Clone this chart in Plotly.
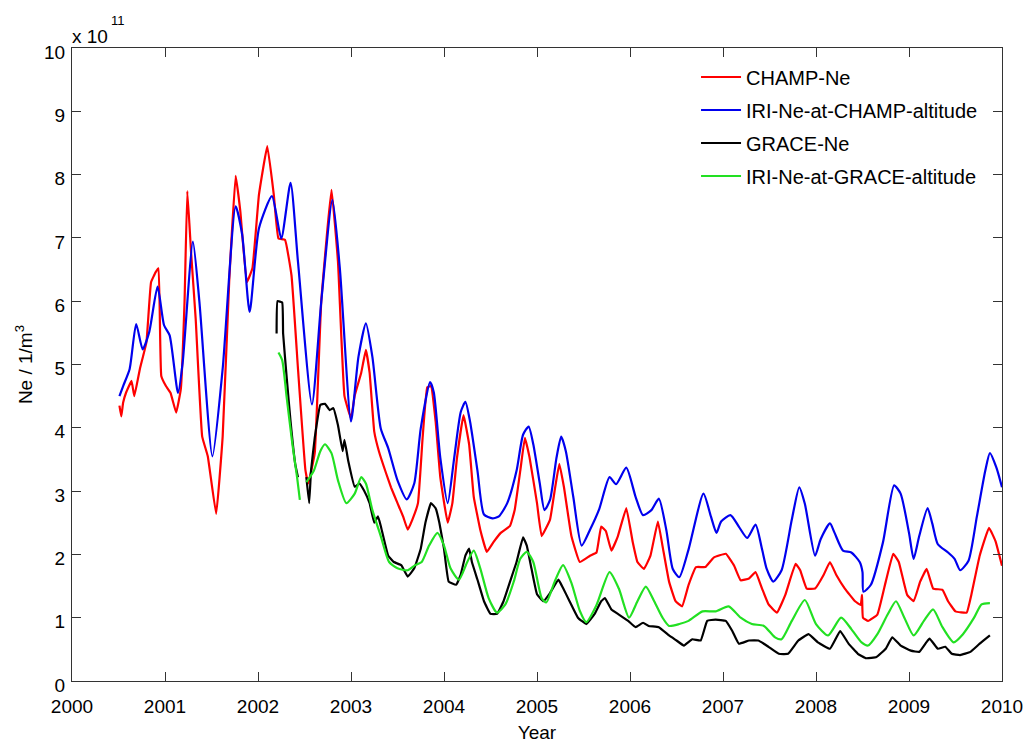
import plotly.graph_objects as go

# (decimal year, Ne in units of 1e11 m^-3); None marks a data gap
champ_ne = [
    (2000.51, 4.35), (2000.53, 4.18), (2000.55, 4.40), (2000.58, 4.55), (2000.64, 4.74), (2000.67, 4.50),
    (2000.73, 4.93), (2000.80, 5.35), (2000.85, 6.30), (2000.90, 6.46), (2000.93, 6.52), (2000.96, 4.82),
    (2001.01, 4.66), (2001.06, 4.55), (2001.12, 4.24), (2001.17, 4.61), (2001.21, 5.99), (2001.24, 7.74),
    (2001.28, 6.78), (2001.33, 5.72), (2001.40, 3.86), (2001.46, 3.55), (2001.55, 2.64), (2001.62, 3.86),
    (2001.69, 6.30), (2001.76, 7.98), (2001.81, 7.42), (2001.88, 6.30), (2001.94, 6.52), (2002.01, 7.68),
    (2002.10, 8.45), (2002.17, 7.68), (2002.22, 6.99), (2002.29, 6.97), (2002.36, 6.41), (2002.43, 4.93),
    (2002.51, 3.33), (2002.54, 3.12), (2002.61, 3.60), (2002.68, 5.99), (2002.79, 7.76), (2002.86, 6.62),
    (2002.93, 4.50), (2003.00, 4.15), (2003.04, 4.51), (2003.11, 4.87), (2003.16, 5.23), (2003.20, 4.87),
    (2003.25, 3.94), (2003.30, 3.63), (2003.38, 3.27), (2003.43, 3.06), (2003.50, 2.81), (2003.56, 2.60),
    (2003.61, 2.39), (2003.66, 2.55), (2003.72, 2.81), (2003.77, 3.84), (2003.82, 4.64), (2003.86, 4.66),
    (2003.91, 4.10), (2003.96, 3.22), (2004.04, 2.50), (2004.09, 2.81), (2004.14, 3.53), (2004.21, 4.20),
    (2004.27, 3.74), (2004.32, 2.91), (2004.39, 2.39), (2004.46, 2.04), (2004.53, 2.19), (2004.61, 2.34),
    (2004.71, 2.45), (2004.76, 2.70), (2004.82, 3.32), (2004.87, 3.84), (2004.92, 3.53), (2005.00, 2.81),
    (2005.05, 2.29), (2005.14, 2.55), (2005.19, 3.01), (2005.24, 3.43), (2005.29, 3.06), (2005.37, 2.29),
    (2005.46, 1.88), (2005.57, 1.98), (2005.64, 2.03), (2005.69, 2.44), (2005.74, 2.37), (2005.80, 2.06),
    (2005.87, 2.29), (2005.96, 2.73), (2006.03, 2.19), (2006.08, 1.88), (2006.15, 1.77), (2006.22, 1.98),
    (2006.30, 2.52), (2006.35, 2.13), (2006.42, 1.57), (2006.49, 1.26), (2006.56, 1.18), (2006.63, 1.52),
    (2006.71, 1.80), (2006.81, 1.80), (2006.90, 1.95), (2007.03, 2.01), (2007.12, 1.82), (2007.19, 1.59),
    (2007.28, 1.62), (2007.35, 1.72), (2007.42, 1.46), (2007.49, 1.21), (2007.58, 1.08), (2007.67, 1.36),
    (2007.78, 1.85), (2007.83, 1.75), (2007.90, 1.46), (2007.99, 1.46), (2008.08, 1.67), (2008.15, 1.88),
    (2008.22, 1.67), (2008.31, 1.46), (2008.42, 1.26), (2008.48, 1.20), (2008.495, 1.36), (2008.505, 1.00),
    (2008.56, 0.95), (2008.66, 1.05), (2008.75, 1.57), (2008.83, 2.01), (2008.89, 1.88), (2008.98, 1.36),
    (2009.05, 1.26), (2009.12, 1.57), (2009.19, 1.77), (2009.26, 1.46), (2009.36, 1.44), (2009.42, 1.26),
    (2009.50, 1.10), (2009.62, 1.08), (2009.67, 1.36), (2009.76, 1.98), (2009.86, 2.42), (2009.93, 2.21),
    (2010.00, 1.82),
]

iri_champ = [
    (2000.51, 4.50), (2000.55, 4.66), (2000.62, 4.93), (2000.69, 5.64), (2000.76, 5.24), (2000.83, 5.51),
    (2000.92, 6.23), (2000.99, 5.62), (2001.05, 5.46), (2001.14, 4.55), (2001.19, 5.03), (2001.30, 6.94),
    (2001.37, 5.99), (2001.51, 3.55), (2001.62, 4.93), (2001.76, 7.50), (2001.83, 7.05), (2001.91, 5.83),
    (2002.01, 7.15), (2002.15, 7.66), (2002.25, 6.99), (2002.35, 7.87), (2002.43, 6.62), (2002.58, 4.37),
    (2002.68, 5.99), (2002.80, 7.60), (2002.88, 6.52), (2003.00, 4.10), (2003.08, 5.12), (2003.16, 5.65),
    (2003.23, 5.12), (2003.32, 3.99), (2003.40, 3.68), (2003.50, 3.17), (2003.60, 2.87), (2003.68, 3.12),
    (2003.75, 3.99), (2003.85, 4.72), (2003.89, 4.56), (2003.96, 3.53), (2004.04, 2.81), (2004.11, 3.53),
    (2004.18, 4.25), (2004.23, 4.41), (2004.28, 4.10), (2004.36, 3.32), (2004.43, 2.63), (2004.52, 2.57),
    (2004.59, 2.60), (2004.68, 2.81), (2004.78, 3.32), (2004.85, 3.89), (2004.91, 4.02), (2004.96, 3.74),
    (2005.03, 3.12), (2005.08, 2.70), (2005.14, 2.86), (2005.21, 3.53), (2005.26, 3.86), (2005.31, 3.63),
    (2005.39, 2.91), (2005.48, 2.14), (2005.57, 2.39), (2005.67, 2.72), (2005.78, 3.22), (2005.85, 3.11),
    (2005.96, 3.37), (2006.06, 2.91), (2006.14, 2.62), (2006.23, 2.70), (2006.31, 2.88), (2006.39, 2.39),
    (2006.46, 1.77), (2006.53, 1.64), (2006.63, 2.08), (2006.79, 2.96), (2006.87, 2.60), (2006.93, 2.34),
    (2006.98, 2.52), (2007.08, 2.62), (2007.17, 2.44), (2007.26, 2.26), (2007.35, 2.47), (2007.42, 2.08),
    (2007.47, 1.77), (2007.54, 1.57), (2007.63, 1.75), (2007.74, 2.55), (2007.82, 3.06), (2007.88, 2.80),
    (2007.99, 1.98), (2008.05, 2.24), (2008.15, 2.49), (2008.20, 2.34), (2008.29, 2.06), (2008.38, 2.03),
    (2008.47, 1.88), (2008.50, 1.72), (2008.51, 1.41), (2008.59, 1.52), (2008.72, 2.19), (2008.84, 3.09),
    (2008.91, 2.96), (2009.00, 2.34), (2009.05, 1.93), (2009.11, 2.29), (2009.20, 2.73), (2009.25, 2.49),
    (2009.31, 2.16), (2009.42, 2.03), (2009.49, 1.93), (2009.55, 1.75), (2009.64, 1.90), (2009.73, 2.60),
    (2009.82, 3.32), (2009.87, 3.60), (2009.94, 3.37), (2010.00, 3.06),
]

grace_ne = [
    (2002.20, 5.49), (2002.21, 6.00), (2002.26, 5.98), (2002.27, 5.49), (2002.31, 4.77), (2002.35, 4.10),
    (2002.40, 3.43), (2002.43, 3.22), None,
    (2002.52, 3.22), (2002.55, 2.81), (2002.57, 3.32), (2002.61, 3.84), (2002.67, 4.36), (2002.72, 4.38),
    (2002.77, 4.28), (2002.81, 4.31), (2002.86, 4.04), (2002.91, 3.63), (2002.93, 3.81), (2002.97, 3.48),
    (2003.04, 3.07), (2003.09, 3.12), (2003.14, 3.01), (2003.20, 2.81), (2003.25, 2.50), (2003.29, 2.60),
    (2003.32, 2.45), (2003.40, 1.98), (2003.46, 1.88), (2003.54, 1.83), (2003.61, 1.65), (2003.68, 1.78),
    (2003.75, 2.09), (2003.80, 2.50), (2003.86, 2.81), (2003.91, 2.73), (2003.95, 2.50), (2004.00, 2.09),
    (2004.05, 1.57), (2004.13, 1.52), (2004.18, 1.68), (2004.23, 1.98), (2004.27, 2.09), (2004.30, 1.88),
    (2004.36, 1.60), (2004.43, 1.26), (2004.50, 1.06), (2004.57, 1.06), (2004.64, 1.26), (2004.71, 1.57),
    (2004.78, 1.88), (2004.85, 2.27), (2004.89, 2.14), (2004.94, 1.78), (2005.00, 1.37), (2005.07, 1.26),
    (2005.14, 1.39), (2005.23, 1.60), (2005.28, 1.47), (2005.35, 1.26), (2005.44, 1.00), (2005.53, 0.90),
    (2005.62, 1.06), (2005.69, 1.26), (2005.73, 1.31), (2005.80, 1.13), (2005.88, 1.05), (2005.98, 0.95),
    (2006.06, 0.85), (2006.14, 0.92), (2006.20, 0.87), (2006.31, 0.85), (2006.42, 0.72), (2006.50, 0.64),
    (2006.58, 0.56), (2006.67, 0.66), (2006.76, 0.64), (2006.83, 0.95), (2006.92, 0.97), (2007.03, 0.95),
    (2007.10, 0.79), (2007.17, 0.59), (2007.28, 0.64), (2007.38, 0.64), (2007.49, 0.54), (2007.60, 0.43),
    (2007.70, 0.43), (2007.81, 0.64), (2007.92, 0.74), (2008.02, 0.61), (2008.15, 0.51), (2008.26, 0.79),
    (2008.35, 0.59), (2008.45, 0.43), (2008.54, 0.36), (2008.65, 0.38), (2008.75, 0.51), (2008.82, 0.69),
    (2008.91, 0.56), (2009.02, 0.48), (2009.11, 0.46), (2009.22, 0.67), (2009.31, 0.51), (2009.39, 0.54),
    (2009.46, 0.43), (2009.55, 0.41), (2009.66, 0.46), (2009.76, 0.59), (2009.87, 0.72),
]

iri_grace = [
    (2002.22, 5.19), (2002.26, 5.07), (2002.31, 4.46), (2002.37, 3.74), (2002.42, 3.22), (2002.45, 2.86), None,
    (2002.52, 3.14), (2002.60, 3.32), (2002.67, 3.63), (2002.72, 3.74), (2002.79, 3.60), (2002.86, 3.17),
    (2002.95, 2.81), (2003.04, 2.96), (2003.11, 3.22), (2003.16, 3.12), (2003.23, 2.70), (2003.32, 2.29),
    (2003.41, 1.88), (2003.50, 1.78), (2003.61, 1.75), (2003.69, 1.83), (2003.76, 1.88), (2003.84, 2.14),
    (2003.93, 2.34), (2004.00, 2.14), (2004.07, 1.78), (2004.16, 1.60), (2004.25, 1.88), (2004.32, 2.06),
    (2004.39, 1.78), (2004.48, 1.31), (2004.57, 1.08), (2004.66, 1.21), (2004.75, 1.57), (2004.82, 1.93),
    (2004.89, 2.04), (2004.96, 1.88), (2005.05, 1.31), (2005.10, 1.24), (2005.19, 1.57), (2005.28, 1.83),
    (2005.37, 1.55), (2005.46, 1.11), (2005.53, 0.93), (2005.64, 1.20), (2005.78, 1.72), (2005.88, 1.46),
    (2005.99, 1.00), (2006.08, 1.26), (2006.17, 1.49), (2006.26, 1.26), (2006.35, 1.00), (2006.42, 0.87),
    (2006.53, 0.90), (2006.63, 0.95), (2006.78, 1.10), (2006.92, 1.10), (2007.06, 1.18), (2007.19, 1.00),
    (2007.31, 0.90), (2007.44, 0.87), (2007.56, 0.69), (2007.63, 0.66), (2007.74, 0.95), (2007.88, 1.28),
    (2008.00, 0.90), (2008.13, 0.72), (2008.27, 1.00), (2008.38, 0.82), (2008.49, 0.61), (2008.56, 0.56),
    (2008.66, 0.74), (2008.77, 1.05), (2008.86, 1.26), (2008.95, 1.00), (2009.05, 0.72), (2009.16, 0.95),
    (2009.26, 1.13), (2009.36, 0.85), (2009.48, 0.61), (2009.58, 0.74), (2009.70, 1.00), (2009.78, 1.21),
    (2009.87, 1.23),
]

series_names = ["CHAMP-Ne", "IRI-Ne-at-CHAMP-altitude", "GRACE-Ne", "IRI-Ne-at-GRACE-altitude"]
series_colors = ["#ff0000", "#0000ee", "#000000", "#22e022"]
series_smoothing = [0.3, 0.6, 0.3, 0.6]
x_ticks = list(range(2000, 2011))
y_ticks = list(range(0, 11))


def split(points):
    xs = [p[0] if p is not None else None for p in points]
    ys = [p[1] if p is not None else None for p in points]
    return xs, ys


fig = go.Figure()
for data, name, color, sm in zip([champ_ne, iri_champ, grace_ne, iri_grace],
                                 series_names, series_colors, series_smoothing):
    xs, ys = split(data)
    fig.add_trace(go.Scatter(x=xs, y=ys, mode="lines", name=name, legendgroup=name,
                             line=dict(color=color, width=2.2, shape="spline", smoothing=sm),
                             connectgaps=False))

axis_common = dict(showline=True, linecolor="#333333", linewidth=1, mirror="ticks",
                   ticks="inside", ticklen=9, tickcolor="#333333", showgrid=False,
                   zeroline=False, tickfont=dict(size=19, color="black"))

fig.update_layout(
    width=1035, height=751,
    margin=dict(l=72, r=27, t=48, b=56),
    paper_bgcolor="white", plot_bgcolor="white",
    font=dict(family="Liberation Sans, Arial, sans-serif", size=19, color="black"),
    xaxis=dict(range=[2000, 2010], tickvals=x_ticks, ticktext=[str(v) for v in x_ticks],
               ticklabelstandoff=8,
               title=dict(text="Year", standoff=9, font=dict(size=19)), **axis_common),
    yaxis=dict(range=[0, 10], tickvals=y_ticks, ticktext=[str(v) for v in y_ticks],
               ticklabelshift=4, ticklabelstandoff=2,
               title=dict(text="Ne / 1/m<sup>3</sup>", standoff=6, font=dict(size=19)), **axis_common),
    legend=dict(x=0.671, y=0.985, xanchor="left", yanchor="top", bgcolor="rgba(0,0,0,0)",
                font=dict(size=20), tracegroupgap=4, itemwidth=40),
    annotations=[
        dict(text="x 10", x=0, y=1, xref="paper", yref="paper", xanchor="left", yanchor="bottom",
             showarrow=False, font=dict(size=19), xshift=-2, yshift=-1),
        dict(text="11", x=0, y=1, xref="paper", yref="paper", xanchor="left", yanchor="bottom",
             showarrow=False, font=dict(size=13), xshift=37, yshift=18),
    ],
)

fig.write_html("out.html")
